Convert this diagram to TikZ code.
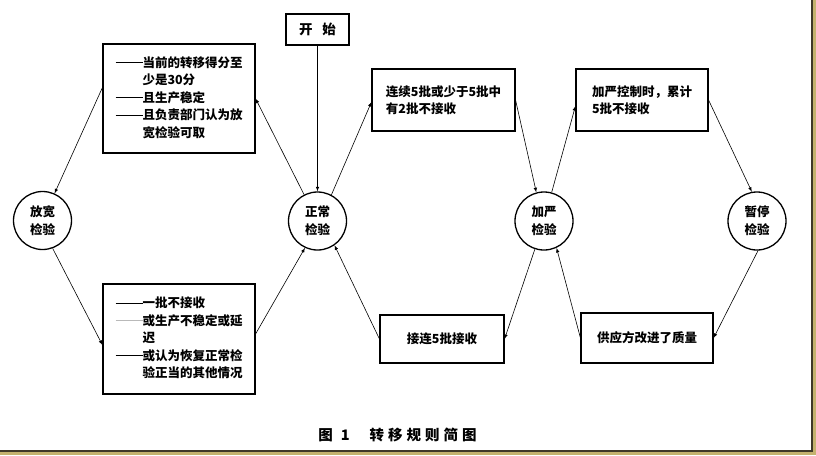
\documentclass[tikz,border=0pt]{standalone}
\usepackage{fontspec}
\setmainfont{Noto Sans CJK SC}
\usetikzlibrary{arrows}
\definecolor{framedark}{RGB}{62,56,40}
\definecolor{frametan}{RGB}{196,178,110}
\newcommand{\condline}{\rule[0.33em]{27pt}{0.8pt}}
\tikzset{
  rulebox/.style={draw, line width=1.1pt, align=left, inner sep=0pt,
    font=\bfseries\fontsize{12.5}{17.5}\selectfont},
  stage/.style={draw, circle, line width=1.3pt, minimum size=58pt, inner sep=0pt,
    align=center, font=\bfseries\fontsize{12.5}{18}\selectfont},
}
\begin{document}
\begin{tikzpicture}[x=1pt, y=-1pt, semithick]
\useasboundingbox (0,0) rectangle (816,455);
% frame shadow
\fill [frametan] (813,0) rectangle (816,455);
\fill [frametan] (0,452) rectangle (816,455);
\draw [framedark, line width=1.5pt] (812,0) -- (812,451) -- (0,451);
% inspection stages
\path (42.5,220.5) node[stage] (reduced) {放宽\\检验};
\path (317.5,221) node[stage] (normal) {正常\\检验};
\path (544,221) node[stage] (tightened) {加严\\检验};
\path (757,221) node[stage] (suspended) {暂停\\检验};
\path (317.5,29.5) node[rulebox, minimum width=63pt, minimum height=31pt,
  font=\bfseries\fontsize{13.5}{16}\selectfont] (start) {开\hspace{10pt}始};
% switching rules
\path (179,98.5) node[rulebox, minimum width=152pt, minimum height=109pt] (toreduced) {%
\begin{tabular}{@{}l@{}l@{}}
\condline & 当前的转移得分至\\
 & 少是30分\\
\condline & 且生产稳定\\
\condline & 且负责部门认为放\\
 & 宽检验可取
\end{tabular}};
\path (179,339) node[rulebox, minimum width=152pt, minimum height=110pt] (backnormal) {%
\begin{tabular}{@{}l@{}l@{}}
\condline & 一批不接收\\
\textcolor{gray!55}{\condline} & 或生产不稳定或延\\
 & 迟\\
\condline & 或认为恢复正常检\\
 & 验正当的其他情况
\end{tabular}};
\path (443.5,100) node[rulebox, minimum width=143pt, minimum height=62pt] (totight) {连续5批或少于5批中\\有2批不接收};
\path (642,100) node[rulebox, minimum width=132pt, minimum height=62pt] (tosuspend) {加严控制时，累计\\5批不接收};
\path (442,339) node[rulebox, minimum width=124pt, minimum height=48pt] (tonormal) {接连5批接收};
\path (647,338) node[rulebox, minimum width=132pt, minimum height=50pt] (backtight) {供应方改进了质量};
% transitions
\draw [-latex] (start) -- (normal);
\draw [-latex] (normal.117) -- (toreduced.east);
\draw [-latex] ([yshift=11pt]toreduced.west) -- (reduced.66);
\draw [-latex] (reduced.290) -- ([yshift=-6pt]backnormal.west);
\draw [-latex] ([yshift=5pt]backnormal.east) -- (normal.245);
\draw [-latex] (normal.62) -- ([yshift=-2pt]totight.west);
\draw [-latex] (totight.east) -- (tightened.105);
\draw [-latex] (tightened.75) -- ([yshift=-6pt]tosuspend.west);
\draw [-latex] (tosuspend.east) -- (suspended.100);
\draw [-latex] (suspended.272) -- (backtight.east);
\draw [-latex] (backtight.west) -- (tightened.295);
\draw [-latex] (tightened.252) -- (tonormal.east);
\draw [-latex] (tonormal.west) -- (normal.305);
% caption
\path (318,435) node[anchor=west, inner sep=0pt, font=\bfseries\fontsize{14.5}{16}\selectfont] (caption)
  {图\hspace{8pt}1\hspace{20pt}转\kern4pt 移\kern4pt 规\kern4pt 则\kern4pt 简\kern4pt 图};
\end{tikzpicture}
\end{document}
